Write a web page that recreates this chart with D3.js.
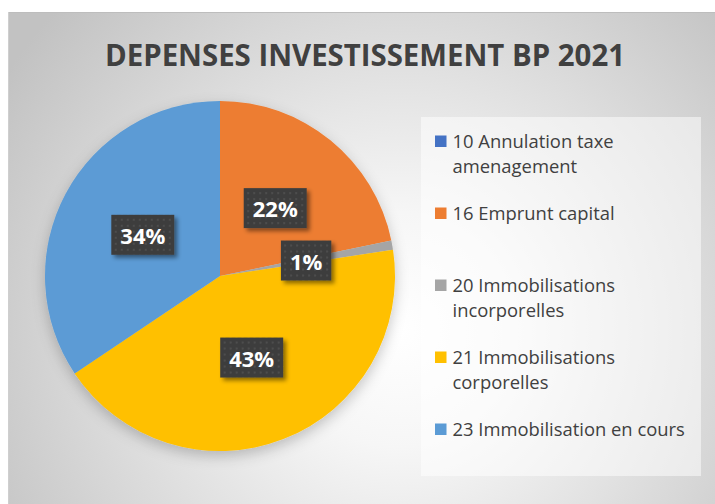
<!DOCTYPE html>
<html>
<head>
<meta charset="utf-8">
<script src="https://cdn.jsdelivr.net/npm/d3@7/dist/d3.min.js"></script>
<style>
  html, body { margin: 0; padding: 0; background: #ffffff; }
  svg { display: block; }
</style>
</head>
<body>
<svg id="chart" width="715" height="504"></svg>
<script>
// ---- Data ----
const title = "DEPENSES INVESTISSEMENT BP 2021";
const categories = [
  "10 Annulation taxe amenagement",
  "16 Emprunt capital",
  "20 Immobilisations incorporelles",
  "21 Immobilisations corporelles",
  "23 Immobilisation en cours"
];
const legendLines = [
  ["10 Annulation taxe", "amenagement"],
  ["16 Emprunt capital"],
  ["20 Immobilisations", "incorporelles"],
  ["21 Immobilisations", "corporelles"],
  ["23 Immobilisation en cours"]
];
const values = [0, 21.74, 0.86, 43.0, 34.4];   // shares (%)
const colors = ["#4472C4", "#ED7D31", "#A5A5A5", "#FFC000", "#5B9BD5"];

// ---- Layout ----
const W = 715, H = 504;
const cx = 220, cy = 276, R = 175;

const svg = d3.select("#chart");
const defs = svg.append("defs");

// background gradient
const bg = defs.append("radialGradient").attr("id", "bgGrad")
  .attr("gradientUnits", "userSpaceOnUse")
  .attr("cx", 400).attr("cy", 330).attr("r", 470);
bg.append("stop").attr("offset", "0%").attr("stop-color", "#ffffff");
bg.append("stop").attr("offset", "25%").attr("stop-color", "#f6f6f6");
bg.append("stop").attr("offset", "100%").attr("stop-color", "#c2c2c2");

// pie shadow
const fPie = defs.append("filter").attr("id", "pieShadow")
  .attr("x", "-20%").attr("y", "-20%").attr("width", "140%").attr("height", "140%");
fPie.append("feDropShadow").attr("dx", 0).attr("dy", 5).attr("stdDeviation", 7)
  .attr("flood-color", "#000").attr("flood-opacity", 0.22);

// label shadow
const fLab = defs.append("filter").attr("id", "labShadow")
  .attr("x", "-30%").attr("y", "-30%").attr("width", "160%").attr("height", "160%");
fLab.append("feDropShadow").attr("dx", 3).attr("dy", 3).attr("stdDeviation", 2)
  .attr("flood-color", "#000").attr("flood-opacity", 0.45);

// dotted pattern for labels
const pat = defs.append("pattern").attr("id", "dots")
  .attr("patternUnits", "userSpaceOnUse").attr("width", 6).attr("height", 6);
pat.append("rect").attr("width", 6).attr("height", 6).attr("fill", "#3d3d3d");
pat.append("circle").attr("cx", 3).attr("cy", 3).attr("r", 0.9).attr("fill", "#555555");

// chart area
svg.append("rect").attr("x", 8).attr("y", 12).attr("width", W - 8).attr("height", H - 12)
  .attr("fill", "url(#bgGrad)");
svg.append("line").attr("x1", 8).attr("x2", W).attr("y1", 12.5).attr("y2", 12.5)
  .attr("stroke", "#bdbdbd").attr("stroke-width", 1);
svg.append("line").attr("x1", 8.5).attr("x2", 8.5).attr("y1", 12).attr("y2", H)
  .attr("stroke", "#cfcfcf").attr("stroke-width", 1);

// title
svg.append("text")
  .attr("x", 365).attr("y", 66)
  .attr("text-anchor", "middle")
  .attr("font-family", "'Open Sans', 'Noto Sans', sans-serif")
  .attr("font-weight", "bold")
  .attr("font-size", 30)
  .attr("fill", "#404040")
  .attr("textLength", 520).attr("lengthAdjust", "spacingAndGlyphs")
  .text(title);

// pie
const total = d3.sum(values);
const pie = d3.pie().sort(null).value(d => d).startAngle(0).endAngle(2 * Math.PI);
const arcs = pie(values);
const arc = d3.arc().innerRadius(0).outerRadius(R);
const labelArc = d3.arc().innerRadius(R * 0.5).outerRadius(R * 0.5);

const g = svg.append("g").attr("transform", `translate(${cx},${cy})`);
g.append("g").attr("filter", "url(#pieShadow)")
  .selectAll("path").data(arcs).join("path")
  .attr("d", arc)
  .attr("fill", (d, i) => colors[i]);

// data labels
const labG = g.append("g").selectAll("g").data(arcs.filter(d => d.value > 0)).join("g")
  .attr("transform", d => `translate(${labelArc.centroid(d)})`);
labG.each(function(d) {
  const sel = d3.select(this);
  const rect = sel.append("rect").attr("fill", "url(#dots)").attr("filter", "url(#labShadow)");
  const t = sel.append("text")
    .attr("text-anchor", "middle")
    .attr("y", 9)
    .attr("font-family", "'Open Sans', 'Noto Sans', sans-serif")
    .attr("font-weight", "bold")
    .attr("font-size", 22)
    .attr("fill", "#ffffff")
    .text(Math.round(d.value / total * 100) + "%");
  const w = t.node().getComputedTextLength();
  rect.attr("x", -w / 2 - 9).attr("y", -20).attr("width", w + 18).attr("height", 40);
});

// legend
svg.append("rect").attr("x", 421).attr("y", 117).attr("width", 280).attr("height", 359)
  .attr("fill", "#ffffff").attr("fill-opacity", 0.5);

const ly = d3.scalePoint().domain(categories).range([141, 429]);
const lg = svg.append("g").selectAll("g").data(categories).join("g")
  .attr("transform", d => `translate(435,${ly(d)})`);
lg.append("rect").attr("x", 0).attr("y", -5.5).attr("width", 11.5).attr("height", 11.5)
  .attr("fill", (d, i) => colors[i]);
lg.append("text")
  .attr("x", 17.5).attr("y", 6.5)
  .attr("font-family", "'Open Sans', 'Noto Sans', sans-serif")
  .attr("font-size", 18.4)
  .attr("fill", "#404040")
  .selectAll("tspan").data((d, i) => legendLines[i]).join("tspan")
  .attr("x", 17.5).attr("dy", (d, j) => j === 0 ? 0 : 25)
  .text(d => d);
</script>
</body>
</html>
